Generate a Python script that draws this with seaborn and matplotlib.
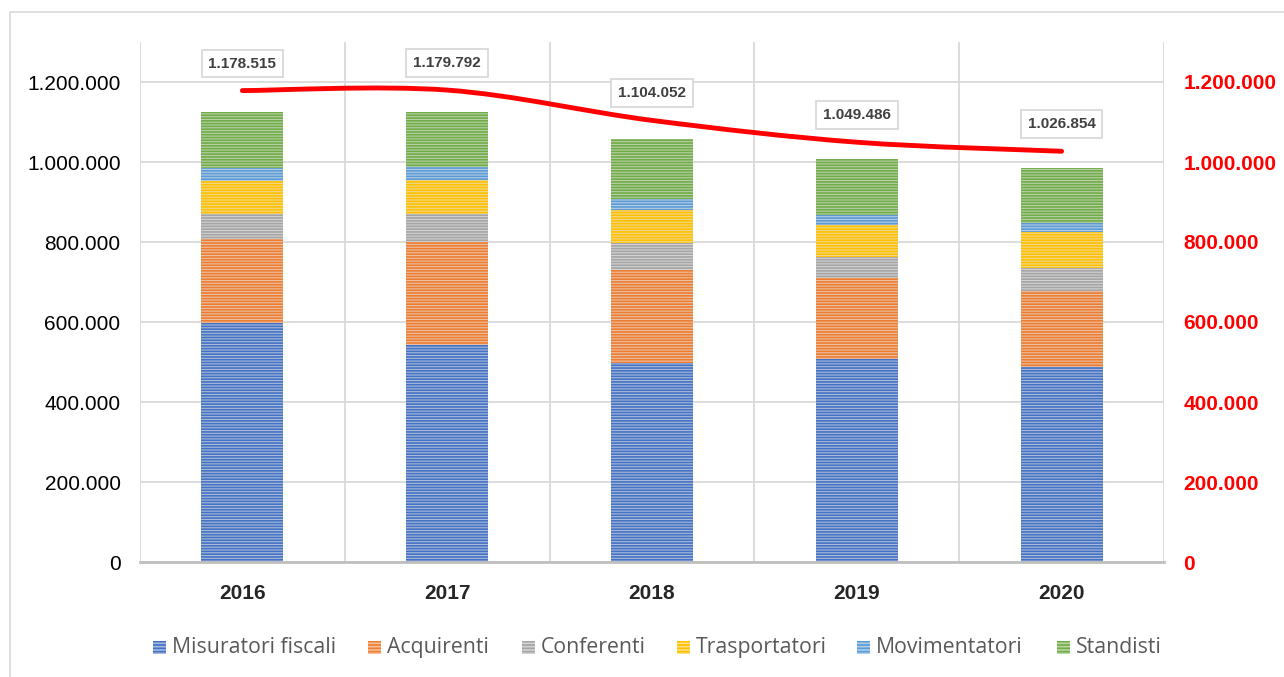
import numpy as np
import pandas as pd
import seaborn as sns
import matplotlib.pyplot as plt
from matplotlib.patches import PathPatch, Rectangle
from matplotlib.path import Path
from matplotlib.ticker import FuncFormatter, FixedLocator

years = ['2016', '2017', '2018', '2019', '2020']
misuratori = [597000, 542500, 498000, 507500, 488000]
acquirenti = [210000, 258000, 232000, 202000, 189000]
conferenti = [62000, 69000, 67000, 54000, 59000]
trasportatori = [84000, 85000, 83000, 79000, 89000]
movimentatori = [33000, 33000, 27000, 25000, 23000]
standisti = [138000, 138000, 150000, 140000, 138000]
totale = [1178515, 1179792, 1104052, 1049486, 1026854]

series_names = ['Misuratori fiscali', 'Acquirenti', 'Conferenti',
                'Trasportatori', 'Movimentatori', 'Standisti']
series_vals = [misuratori, acquirenti, conferenti, trasportatori,
               movimentatori, standisti]
colors = ['#4472C4', '#ED7D31', '#A5A5A5', '#FFC000', '#5B9BD5', '#70AD47']

sns.set_style('white')
plt.rcParams['font.family'] = ['Liberation Sans', 'DejaVu Sans']
plt.rcParams['hatch.linewidth'] = 1.2

W, H = 1284, 677


def light(c, f=0.5):
    r, g, b = [int(c[i:i + 2], 16) / 255 for i in (1, 3, 5)]
    return (r + (1 - r) * f, g + (1 - g) * f, b + (1 - b) * f)


def fmt(v, pos=None):
    return f'{int(round(v)):,}'.replace(',', '.')


fig = plt.figure(figsize=(12.84, 6.77), dpi=100)
fig.patches.append(Rectangle((10 / W, -0.1), 1.2, 1.1 - 12 / H,
                             transform=fig.transFigure, fill=False,
                             edgecolor='#D9D9D9', linewidth=1.2))
ax = fig.add_axes([140 / W, 1 - 562 / H, 1024 / W, 520 / H])

bottom = np.zeros(len(years))
for name, vals, col in zip(series_names, series_vals, colors):
    df = pd.DataFrame({'anno': years, 'valore': vals})
    sns.barplot(data=df, x='anno', y='valore', bottom=bottom, width=0.4,
                color=light(col), edgecolor=col, linewidth=0, hatch='------',
                errorbar=None, ax=ax, zorder=2)
    bottom += np.array(vals)

ax.set_xlim(-0.5, 4.5)
ax.set_ylim(0, 1300000)
ax.set_yticks(np.arange(0, 1200001, 200000))
ax.yaxis.set_major_formatter(FuncFormatter(fmt))
ax.xaxis.set_minor_locator(FixedLocator(np.arange(-0.5, 4.6, 1)))
ax.grid(axis='y', color='#D9D9D9', linewidth=1.3, zorder=0)
ax.grid(axis='x', which='minor', color='#D9D9D9', linewidth=1.3, zorder=0)
ax.set_axisbelow(True)
for s in ['top', 'left', 'right']:
    ax.spines[s].set_visible(False)
ax.spines['bottom'].set_color('#BFBFBF')
ax.spines['bottom'].set_linewidth(2)
ax.set_xlabel('')
ax.set_ylabel('')
ax.tick_params(axis='y', length=0, pad=14, labelsize=15, labelcolor='#000000')
ax.tick_params(axis='x', which='both', length=0, pad=16)
for lab in ax.get_xticklabels():
    lab.set_fontsize(15)
    lab.set_fontweight('bold')

ax2 = ax.twinx()
ax2.set_ylim(0, 1300000)
ax2.set_yticks(np.arange(0, 1200001, 200000))
ax2.yaxis.set_major_formatter(FuncFormatter(fmt))
ax2.tick_params(axis='y', length=0, pad=14, labelsize=15, labelcolor='#FF0000')
for lab in ax2.get_yticklabels():
    lab.set_fontweight('bold')
for s in ax2.spines.values():
    s.set_visible(False)

# smoothed line (Excel style bezier through the points)
xs = np.arange(len(totale), dtype=float)
ys = np.array(totale, dtype=float)
verts = [(xs[0], ys[0])]
codes = [Path.MOVETO]
for i in range(len(xs) - 1):
    p0 = max(i - 1, 0)
    p3 = min(i + 2, len(xs) - 1)
    c1 = (xs[i] + (xs[i + 1] - xs[p0]) / 6, ys[i] + (ys[i + 1] - ys[p0]) / 6)
    c2 = (xs[i + 1] - (xs[p3] - xs[i]) / 6, ys[i + 1] - (ys[p3] - ys[i]) / 6)
    verts += [c1, c2, (xs[i + 1], ys[i + 1])]
    codes += [Path.CURVE4] * 3
ax2.add_patch(PathPatch(Path(verts, codes), facecolor='none',
                        edgecolor='#FF0000', linewidth=3.5,
                        capstyle='round', zorder=3))

for x, v in zip(xs, totale):
    ax2.annotate(fmt(v), (x, v), xytext=(0, 19.5), textcoords='offset points',
                 ha='center', va='center', fontsize=11, fontweight='bold',
                 color='#404040',
                 bbox=dict(boxstyle='square,pad=0.45', facecolor='white',
                           edgecolor='#D9D9D9', linewidth=1.3))

# legend drawn by hand so all labels share one baseline
leg_x = [153, 368, 522, 677, 857, 1057]
base_y = 653
for lx, name, col in zip(leg_x, series_names, colors):
    fig.patches.append(Rectangle((lx / W, 1 - (base_y + 1) / H), 13 / W, 13 / H,
                                 transform=fig.transFigure, facecolor=light(col),
                                 edgecolor=col, hatch='-----', linewidth=0))
    fig.text((lx + 19) / W, 1 - base_y / H, name, va='baseline', ha='left',
             fontfamily='Open Sans', fontsize=15.3, color='#595959')

fig.savefig('out.png', dpi=100)
